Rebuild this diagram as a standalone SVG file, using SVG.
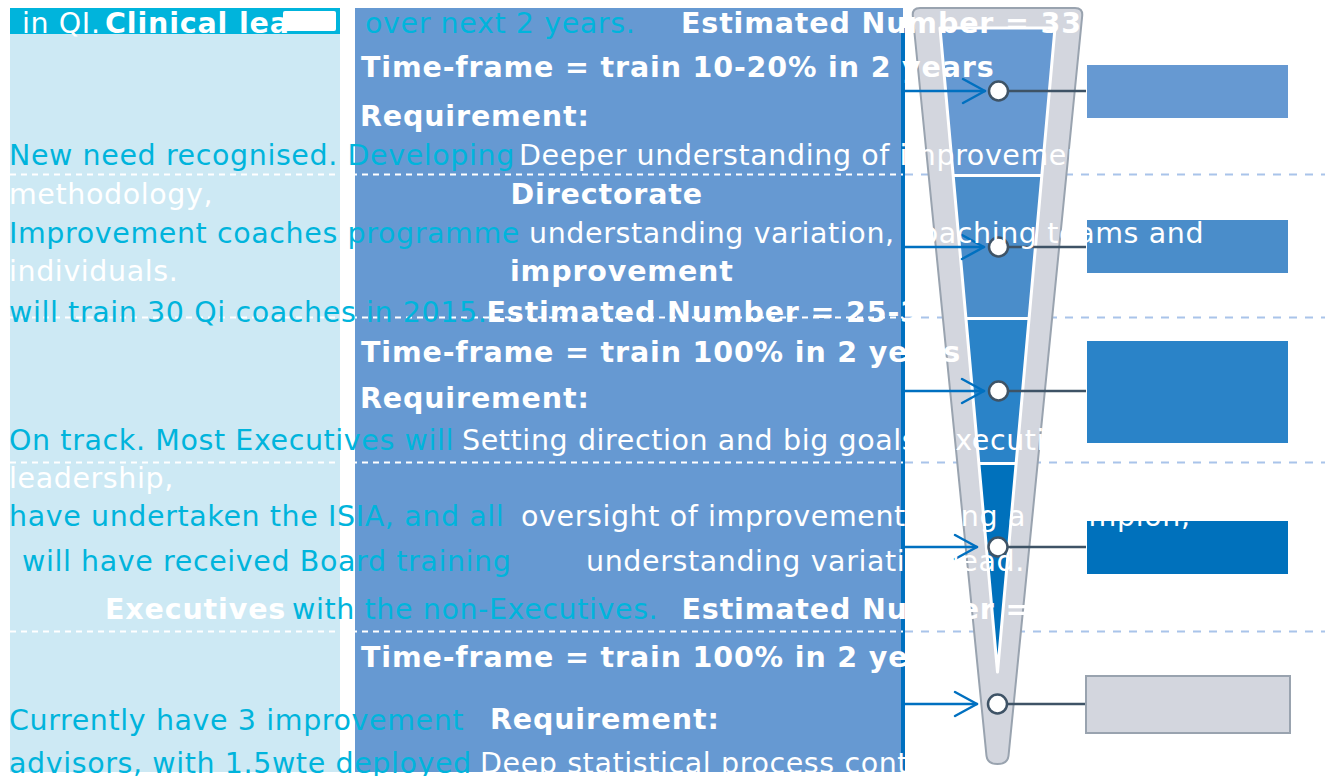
<svg xmlns="http://www.w3.org/2000/svg" width="1338" height="776" viewBox="0 0 1338 776">
  <style>
    .t { font-family: "DejaVu Sans", Verdana, sans-serif; font-size: 28.5px; letter-spacing: 0.6px; }
    .b { font-weight: bold; letter-spacing: 0.85px; }
    .cy { fill: #00B4DC; }
    .wh { fill: #FFFFFF; }
    .dashW { stroke: #FFFFFF; stroke-width: 2; stroke-dasharray: 6 5; fill: none; }
    .dashB { stroke: #A9C4EA; stroke-width: 2; stroke-dasharray: 8 8; fill: none; }
    .arrow { stroke: #0070C0; stroke-width: 2.5; fill: none; stroke-linecap: round; stroke-linejoin: round; }
    .link { stroke: #3E5366; stroke-width: 2.5; fill: none; }
    .pin { fill: #FFFFFF; stroke: #3E5366; stroke-width: 2.5; }
  </style>
  <defs>
    <clipPath id="funnelInner">
      <polygon points="940,28 1055,28 997.5,672"/>
    </clipPath>
  </defs>

  <rect width="1338" height="776" fill="#FFFFFF"/>

  <!-- Left status column -->
  <g id="status-panel">
    <rect x="10" y="8" width="330" height="764" fill="#CDE9F4"/>
    <rect x="10" y="8" width="330" height="26" fill="#00B4DC"/>
  </g>

  <!-- Middle requirements column -->
  <g id="requirements-panel">
    <rect x="355" y="8" width="548" height="764" fill="#6699D2"/>
    <rect x="901" y="28" width="4" height="744" fill="#0070C0"/>
  </g>

  <!-- Row separators -->
  <g id="separators">
    <line class="dashW" x1="10" y1="174.5" x2="903" y2="174.5"/>
    <line class="dashW" x1="10" y1="317.5" x2="903" y2="317.5"/>
    <line class="dashW" x1="10" y1="462.5" x2="903" y2="462.5"/>
    <line class="dashW" x1="10" y1="631.5" x2="903" y2="631.5"/>
    <line class="dashB" x1="905" y1="174.5" x2="1325" y2="174.5"/>
    <line class="dashB" x1="905" y1="317.5" x2="1325" y2="317.5"/>
    <line class="dashB" x1="905" y1="462.5" x2="1325" y2="462.5"/>
    <line class="dashB" x1="905" y1="631.5" x2="1325" y2="631.5"/>
  </g>

  <!-- Funnel -->
  <g id="funnel">
    <path d="M920,8 L1075,8 Q1083,8 1082.2,16 L1008.5,756 Q1007.5,764 997.5,764 Q987.5,764 986.5,756 L912.8,16 Q912,8 920,8 Z" fill="#D3D6DE" stroke="#99A3AF" stroke-width="2"/>
    <g clip-path="url(#funnelInner)">
      <rect x="930" y="20" width="140" height="155" fill="#6699D2"/>
      <rect x="930" y="175" width="140" height="143" fill="#4A8DCA"/>
      <rect x="930" y="318" width="140" height="145" fill="#2A83C8"/>
      <rect x="930" y="463" width="140" height="215" fill="#0071BC"/>
      <line x1="930" y1="175.5" x2="1070" y2="175.5" stroke="#FFFFFF" stroke-width="3"/>
      <line x1="930" y1="318.5" x2="1070" y2="318.5" stroke="#FFFFFF" stroke-width="3"/>
      <line x1="930" y1="463.5" x2="1070" y2="463.5" stroke="#FFFFFF" stroke-width="3"/>
    </g>
    <polygon points="940,28 1055,28 997.5,672" fill="none" stroke="#FFFFFF" stroke-width="3" stroke-linejoin="round"/>
  </g>

  <!-- Level boxes -->
  <g id="level-1"><rect x="1087" y="65" width="201" height="53" fill="#6699D2"/></g>
  <g id="level-2"><rect x="1087" y="220" width="201" height="53" fill="#4A8DCA"/></g>
  <g id="level-3"><rect x="1087" y="341" width="201" height="102" fill="#2A83C8"/></g>
  <g id="level-4"><rect x="1087" y="521" width="201" height="53" fill="#0071BC"/></g>
  <g id="level-5"><rect x="1086" y="676" width="204" height="57" fill="#D3D6DE" stroke="#99A3AF" stroke-width="2"/></g>

  <!-- Connectors -->
  <g id="connectors">
    <line class="arrow" x1="904" y1="91" x2="985" y2="91"/>
    <polyline class="arrow" points="963,79 985,91 963,103"/>
    <line class="arrow" x1="904" y1="247" x2="984" y2="247"/>
    <polyline class="arrow" points="962,235 984,247 962,259"/>
    <line class="arrow" x1="904" y1="391" x2="984" y2="391"/>
    <polyline class="arrow" points="962,379 984,391 962,403"/>
    <line class="arrow" x1="904" y1="547" x2="977" y2="547"/>
    <polyline class="arrow" points="955,535 977,547 955,559"/>
    <line class="arrow" x1="904" y1="704" x2="977" y2="704"/>
    <polyline class="arrow" points="955,692 977,704 955,716"/>

    <line class="link" x1="1008" y1="91" x2="1086" y2="91"/>
    <line class="link" x1="1008" y1="247" x2="1086" y2="247"/>
    <line class="link" x1="1008" y1="391" x2="1086" y2="391"/>
    <line class="link" x1="1008" y1="547" x2="1086" y2="547"/>
    <line class="link" x1="1008" y1="704" x2="1085" y2="704"/>

    <circle class="pin" cx="998.5" cy="91" r="9.5"/>
    <circle class="pin" cx="998.5" cy="247" r="9.5"/>
    <circle class="pin" cx="998.5" cy="391" r="9.5"/>
    <circle class="pin" cx="998" cy="547" r="9.5"/>
    <circle class="pin" cx="997.5" cy="704" r="9.5"/>
  </g>

  <!-- Labels -->
  <g id="labels" class="t">
    <text x="22" y="33" class="wh">in QI.</text>
    <text x="105" y="33" class="wh b">Clinical lea</text>
    <rect x="283" y="11" width="53" height="20" rx="2" fill="#FFFFFF"/>
    <text x="365" y="33" class="cy">over next 2 years.</text>
    <text x="681" y="33" class="wh b">Estimated Number = 330</text>

    <text x="361" y="77" class="wh b">Time-frame = train 10-20% in 2 years</text>
    <text x="360" y="126" class="wh b">Requirement:</text>

    <text x="9" y="165" class="cy">New need recognised. Developing</text>
    <text x="519" y="165" class="wh">Deeper understanding of improvement</text>
    <text x="9" y="204" class="wh">methodology,</text>
    <text x="510.5" y="204" class="wh b">Directorate</text>
    <text x="9" y="243" class="cy">Improvement coaches programme</text>
    <text x="529" y="243" class="wh">understanding variation, coaching teams and</text>
    <text x="9" y="281" class="wh">individuals.</text>
    <text x="510" y="281" class="wh b">improvement</text>
    <text x="9" y="322" class="cy">will train 30 Qi coaches in 2015.</text>
    <text x="486.5" y="322" class="wh b">Estimated Number = 25-3</text>

    <text x="361" y="362" class="wh b">Time-frame = train 100% in 2 years</text>
    <text x="360" y="408" class="wh b">Requirement:</text>
    <text x="9" y="450" class="cy">On track. Most Executives will</text>
    <text x="462" y="450" class="wh">Setting direction and big goals, Executive</text>
    <text x="9" y="488" class="wh">leadership,</text>
    <text x="9" y="526" class="cy">have undertaken the ISIA, and all</text>
    <text x="521" y="526" class="wh">oversight of improvement being a champion,</text>
    <text x="22" y="571" class="cy">will have received Board training</text>
    <text x="586" y="571" class="wh">understanding variation lead.</text>
    <text x="105" y="619" class="wh b">Executives</text>
    <text x="292" y="619" class="cy">with the non-Executives.</text>
    <text x="681.5" y="619" class="wh b">Estimated Number =</text>

    <text x="361" y="667" class="wh b">Time-frame = train 100% in 2 years</text>
    <text x="9" y="730" class="cy">Currently have 3 improvement</text>
    <text x="490" y="729" class="wh b">Requirement:</text>
    <text x="9" y="773" class="cy">advisors, with 1.5wte deployed</text>
    <text x="480" y="773" class="wh">Deep statistical process control</text>
  </g>
</svg>
